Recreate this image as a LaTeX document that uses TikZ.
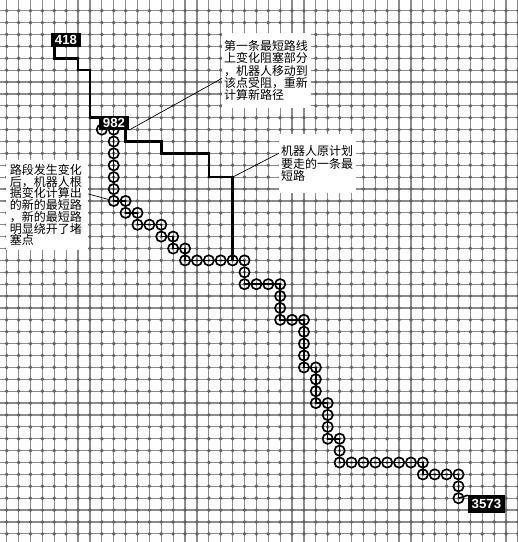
\documentclass[tikz,border=0pt]{standalone}
\usepackage{fontspec}
\newfontfamily\cjk{Noto Sans CJK SC}
\newfontfamily\numfont{Liberation Sans}
\usepackage{tikz}

\begin{document}
\begin{tikzpicture}[
x=0.3cm, y=-0.3cm,
gridln/.style={
	draw=black!45,
	line width=0.9pt
},
gdot/.style={
	fill=black!62
},
oldpath/.style={
	draw,
	line width=1.8pt
},
newpath/.style={
	draw,
	line width=1.1pt
},
wpt/.style={
	draw,
	circle,
	line width=1.2pt,
	minimum size=0.26cm,
	inner sep=0pt
},
idbox/.style={
	fill=black,
	text=white,
	font=\numfont\bfseries\fontsize{9.5}{10}\selectfont,
	inner xsep=0.09cm,
	inner ysep=0pt,
	minimum height=0.353cm
},
note/.style={
	fill=white,
	align=left,
	inner xsep=0.05cm,
	inner ysep=0pt,
	font=\cjk\fontsize{8.6}{8.9}\selectfont
},
lead/.style={
	draw,
	line width=0.5pt
}
]

\useasboundingbox (-0.5635,-0.9) rectangle (43,44.685);

\foreach \i in {0,...,43}
	\draw[gridln] (\i,-0.9) -- (\i,44.685);
\foreach \j in {0,...,44}
	\draw[gridln] (-0.5635,\j) -- (43,\j);
\foreach \i in {0,...,43}
	\foreach \j in {0,...,44}
		\fill[gdot] (\i,\j) circle (1.4pt);

\coordinate (p418) at (4,3);
\coordinate (p982) at (10,9);
\coordinate (porig) at (19,14);
\coordinate (pmerge) at (19,21);

% first shortest path
\draw[oldpath] (p418) |- (6,4) |- (7,5) |- (p982) |- (13,11) |- (17,12) |- (porig) -- (pmerge);

% new shortest path
\foreach \x/\y [count=\k] in {8/10,9/10,9/11,9/12,9/13,9/14,9/15,9/16,10/16,10/17,
	11/17,11/18,12/18,13/18,13/19,14/19,14/20,15/20,15/21,16/21,17/21,18/21,19/21,
	20/21,20/22,20/23,21/23,22/23,23/23,23/24,23/25,23/26,24/26,25/26,25/27,25/28,
	25/29,25/30,26/30,26/31,26/32,26/33,27/33,27/34,27/35,27/36,28/36,28/37,28/38,
	29/38,30/38,31/38,32/38,33/38,34/38,35/38,35/39,36/39,37/39,38/39,38/40,38/41}
	\node[wpt] (w\k) at (\x,\y) {};
\draw[newpath] (w1.center) \foreach \k in {2,...,62} {-- (w\k.center)};

\node[idbox] (n418) at (4.99,2.46) {418};
\node[idbox] (n982) at (9.02,9.44) {982};
\node[idbox, minimum height=0.43cm] (n3573) at (40.35,41.49) {3573};
\draw[newpath] (w62.center) -- (n3573.north west);

\node[note, text width=2.14cm, minimum height=1.89cm] (tcall) at (21.85,5.03)
	{第一条最短路线\\上变化阻塞部分\\，机器人移动到\\该点受阻，重新\\计算新路径};
\node[note, text width=1.83cm, minimum height=1.49cm] (mcall) at (26.14,12.85)
	{机器人原计划\\要走的一条最\\短路};
\node[note, text width=1.87cm, inner xsep=0.1cm, minimum height=2.27cm,
	font=\cjk\fontsize{8.6}{8.4}\selectfont] (lcall) at (3.39,16.34)
	{路段发生变化\\后，机器人根\\据变化计算出\\的新的最短路\\，新的最短路\\明显绕开了堵\\塞点};

\draw[lead] (n982.south east) -- (tcall.190);
\draw[lead] (porig) -- (mcall.165);
\draw[lead] (lcall.15) -- (w8);

\end{tikzpicture}
\end{document}
